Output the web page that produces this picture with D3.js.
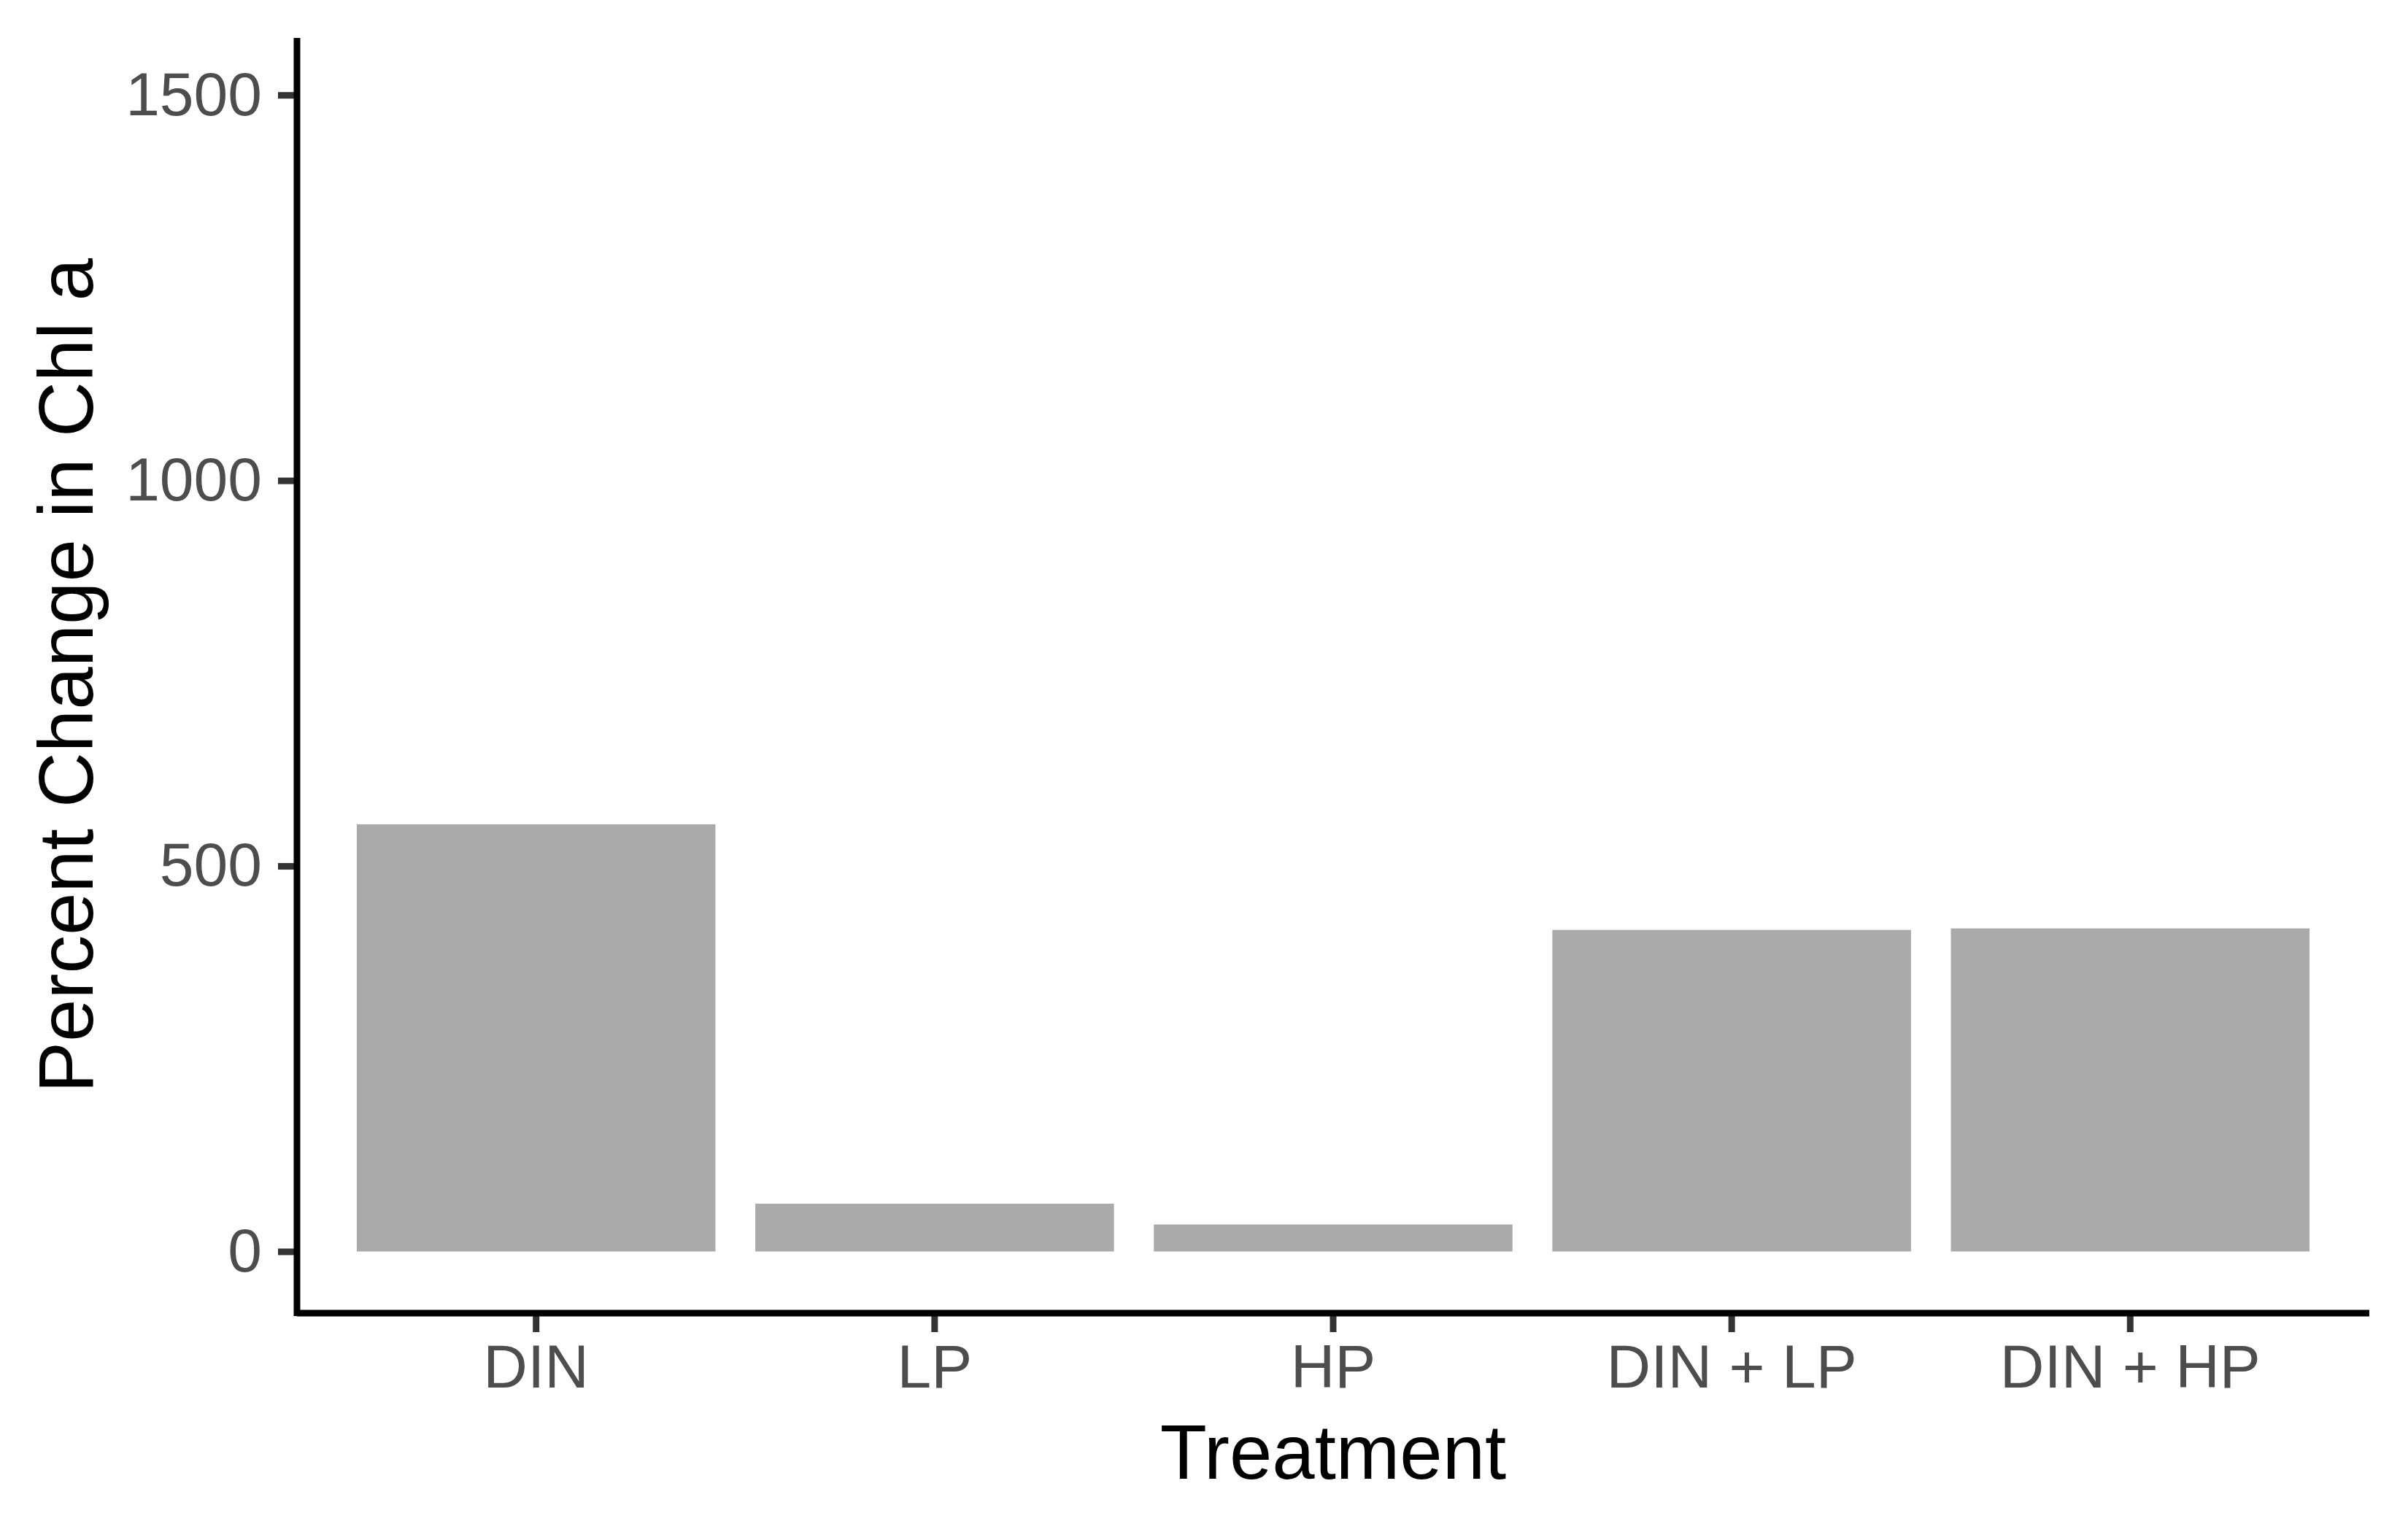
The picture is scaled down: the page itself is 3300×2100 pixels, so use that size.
<!DOCTYPE html>
<html>
<head>
<meta charset="utf-8">
<script src="https://cdn.jsdelivr.net/npm/d3@7"></script>
<style>
  body { margin: 0; background: #fff; }
  text { font-family: "Liberation Sans", Arial, sans-serif; }
</style>
</head>
<body>
<script>
// data
var treatments = ["DIN", "LP", "HP", "DIN + LP", "DIN + HP"];
var pctChange = [554, 62, 35, 417, 419];
var yTicks = [0, 500, 1000, 1500];

var w = 3300;
var h = 2100;
// panel edges (where the axis lines sit) -- note: "top" is reserved on window
var panelLeft = 407, panelRight = 3247, panelTop = 52, panelBottom = 1800;

var svg = d3.select("body")
    .append("svg")
    .attr("width", w)
    .attr("height", h);

svg.append("rect")
    .attr("width", w)
    .attr("height", h)
    .attr("fill", "#fff");

// discrete x like ggplot: 0.6 units of expansion each side, bar width 0.9
var xScale = d3.scaleBand()
    .domain(treatments)
    .range([panelLeft, panelRight])
    .paddingInner(0.1)
    .paddingOuter(0.15);

// y with ggplot's 5% expansion baked in
var yScale = d3.scaleLinear()
    .domain([-80, 1574])
    .range([panelBottom, panelTop]);

svg.selectAll("rect.bar")
    .data(treatments)
    .enter()
    .append("rect")
    .attr("class", "bar")
    .attr("x", function(d) { return xScale(d); })
    .attr("width", xScale.bandwidth())
    .attr("y", function(d, i) { return yScale(pctChange[i]); })
    .attr("height", function(d, i) { return yScale(0) - yScale(pctChange[i]); })
    .attr("fill", "#aaaaaa");

var xAxis = d3.axisBottom(xScale)
    .tickSizeInner(26)
    .tickSizeOuter(0)
    .tickPadding(16);

var yAxis = d3.axisLeft(yScale)
    .tickValues(yTicks)
    .tickFormat(d3.format("d"))
    .tickSizeInner(26)
    .tickSizeOuter(0)
    .tickPadding(22);

var gx = svg.append("g")
    .attr("class", "axis")
    .attr("transform", "translate(0," + panelBottom + ")")
    .call(xAxis);

var gy = svg.append("g")
    .attr("class", "axis")
    .attr("transform", "translate(" + panelLeft + ",0)")
    .call(yAxis);

// replace d3's domain path with plain butt-capped lines
gx.select(".domain").remove();
gy.select(".domain").remove();

[gx, gy].forEach(function(g) {
  g.selectAll(".tick line")
      .attr("stroke", "#333333")
      .attr("stroke-width", 9);
  g.selectAll(".tick text")
      .attr("fill", "#4d4d4d")
      .attr("font-size", 84)
      .attr("font-family", "Liberation Sans, Arial, sans-serif");
});

gx.selectAll(".tick line").attr("y1", 4);
gy.selectAll(".tick line").attr("x1", -4);

svg.append("line")
    .attr("x1", panelLeft).attr("x2", panelLeft)
    .attr("y1", panelTop).attr("y2", panelBottom + 4)
    .attr("stroke", "#000")
    .attr("stroke-width", 9);

svg.append("line")
    .attr("x1", panelLeft).attr("x2", panelRight)
    .attr("y1", panelBottom).attr("y2", panelBottom)
    .attr("stroke", "#000")
    .attr("stroke-width", 9);

// axis titles
svg.append("text")
    .attr("x", (panelLeft + panelRight) / 2)
    .attr("y", 2027)
    .attr("text-anchor", "middle")
    .attr("font-size", 105)
    .attr("fill", "#000")
    .text("Treatment");

svg.append("text")
    .attr("transform", "translate(127," + ((panelTop + panelBottom) / 2) + ") rotate(-90)")
    .attr("text-anchor", "middle")
    .attr("font-size", 105)
    .attr("fill", "#000")
    .text("Percent Change in Chl a");
</script>
</body>
</html>
